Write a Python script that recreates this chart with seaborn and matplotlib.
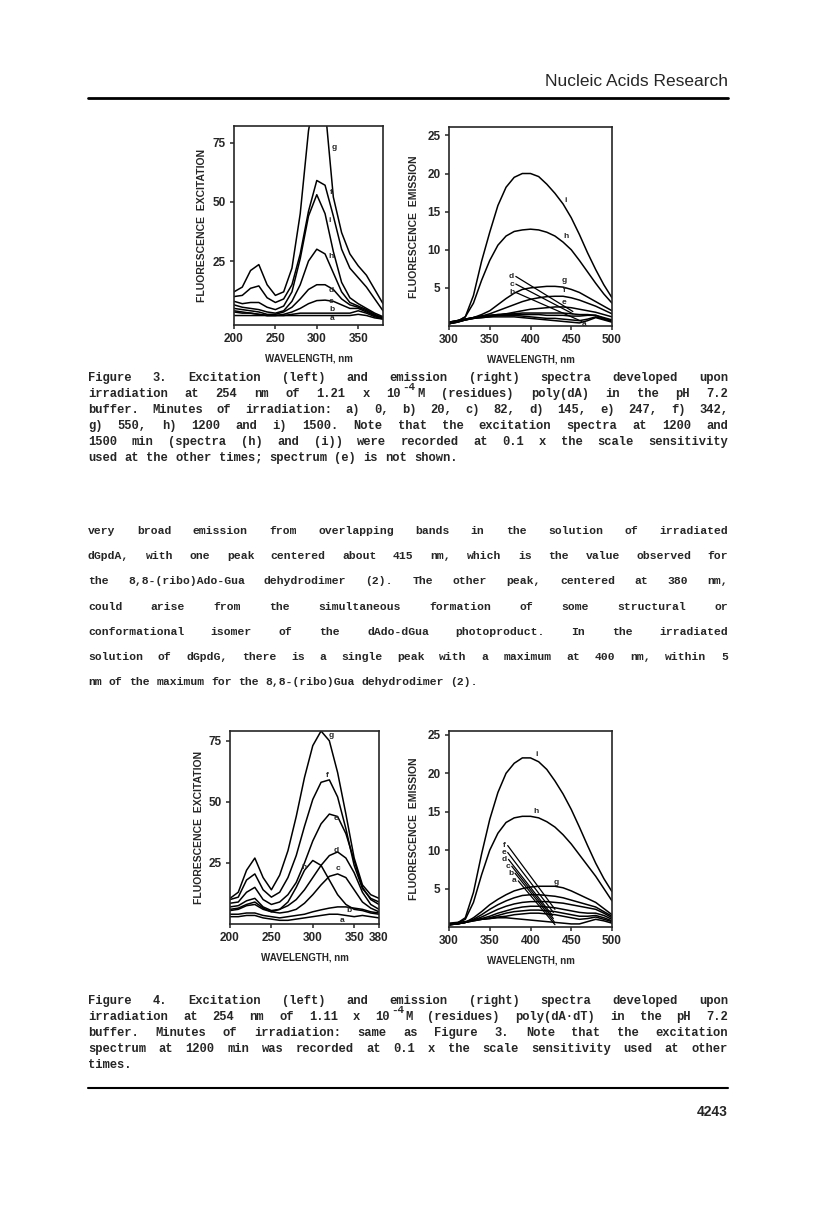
import numpy as np
import pandas as pd
import matplotlib
matplotlib.use("Agg")
import matplotlib.pyplot as plt
import seaborn as sns

W, H = 816, 1221

# longueurs d'onde (nm)
EXC_WL = [200, 210, 220, 230, 240, 250, 260, 270, 280, 290, 300, 310, 320, 330, 340, 350, 360, 370, 380]
EMI_WL = [300, 310, 320, 330, 340, 350, 360, 370, 380, 390, 400, 410, 420, 430, 440, 450, 460, 470, 480, 490, 500]

# Figure 3, excitation (e non montre)
F3X_A = [2, 2, 2, 2, 2, 2, 2, 2, 2, 2, 2, 2, 2, 2, 2, 2.5, 2, 1, 0.5]
F3X_B = [3.5, 3, 3, 2.5, 2, 2, 2, 2.5, 3, 3, 3, 3, 3, 3, 3, 4, 3, 1.5, 0.5]
F3X_C = [4, 3.5, 3, 2.5, 2, 2, 2.5, 3.5, 5, 7, 8.3, 8.5, 8, 6.5, 5, 5, 3.5, 2, 1]
F3X_D = [5, 4.5, 4, 3.5, 2.5, 2.5, 3.5, 5.5, 9, 13, 15, 15, 13, 9, 6.5, 5.5, 4, 2, 1]
F3X_F = [10, 10.5, 13.5, 14.5, 9.5, 7.5, 9, 15, 28, 46, 59, 57, 44, 30, 22, 18, 14, 9, 4]
F3X_G = [12, 14, 21, 23.5, 15, 10.5, 12, 22, 45, 80, 100, 90, 52, 37, 28, 23, 19, 13, 7]
F3X_H = [6.5, 5.5, 5, 4.5, 3.5, 3, 4, 8, 15, 25, 30, 28, 20, 12, 7.5, 6, 4.5, 2.5, 1]
F3X_I = [8, 7, 7.5, 7.5, 5.5, 4.5, 6, 12, 26, 44, 53, 45, 29, 16, 9.5, 7, 5, 3, 1.5]

# Figure 3, emission
F3M_A = [0.4, 0.6, 0.8, 1.0, 1.1, 1.2, 1.2, 1.2, 1.2, 1.1, 1.0, 0.9, 0.8, 0.7, 0.6, 0.5, 0.4, 0.7, 1.1, 0.8, 0.5]
F3M_B = [0.5, 0.7, 0.9, 1.1, 1.2, 1.3, 1.4, 1.4, 1.4, 1.3, 1.2, 1.1, 1.0, 1.0, 0.9, 0.8, 0.7, 0.9, 1.2, 0.9, 0.6]
F3M_C = [0.5, 0.7, 0.9, 1.1, 1.3, 1.4, 1.5, 1.5, 1.5, 1.5, 1.5, 1.5, 1.4, 1.4, 1.4, 1.3, 1.3, 1.4, 1.4, 1.0, 0.7]
F3M_D = [0.5, 0.7, 0.9, 1.1, 1.3, 1.4, 1.5, 1.6, 1.6, 1.7, 1.7, 1.7, 1.7, 1.7, 1.7, 1.6, 1.5, 1.5, 1.4, 1.1, 0.8]
F3M_E = [0.3, 0.5, 0.8, 1.0, 1.1, 1.2, 1.4, 1.6, 1.8, 2.0, 2.2, 2.3, 2.4, 2.5, 2.5, 2.4, 2.2, 2.0, 1.8, 1.5, 1.2]
F3M_F = [0.3, 0.5, 0.8, 1.0, 1.3, 1.6, 2.0, 2.4, 2.8, 3.2, 3.5, 3.7, 3.85, 3.9, 3.9, 3.7, 3.4, 3.0, 2.6, 2.1, 1.6]
F3M_G = [0.3, 0.5, 0.8, 1.1, 1.5, 2.0, 2.8, 3.6, 4.3, 4.8, 5.0, 5.1, 5.2, 5.2, 5.1, 4.8, 4.4, 3.8, 3.2, 2.6, 2.0]
F3M_H = [0.3, 0.6, 1.2, 3, 6, 8.6, 10.6, 11.8, 12.4, 12.6, 12.7, 12.6, 12.3, 11.8, 11, 10, 8.6, 7.1, 5.6, 4.2, 3.0]
F3M_I = [0.3, 0.6, 1.2, 4, 8.5, 12.3, 15.8, 18.2, 19.5, 20, 20, 19.6, 18.6, 17.4, 16, 14.2, 12, 9.6, 7.4, 5.4, 3.7]

# Figure 4, excitation (i non montre)
F4X_A = [3, 3, 3.5, 3.5, 2.5, 2, 1.5, 1.5, 2, 2.5, 3, 3.5, 4, 4, 3.5, 3, 3.5, 3, 2.5]
F4X_B = [4, 4, 4.5, 4.5, 3.5, 3, 2.5, 3, 3.5, 4, 5, 5.8, 6.5, 7, 7, 6.5, 6, 5, 4.5]
F4X_C = [5.5, 6, 7.5, 8, 6, 5, 4.5, 5, 6, 8.5, 12, 16, 19.5, 20.5, 19, 14, 9, 6.5, 5]
F4X_D = [7, 7.5, 9.5, 10.5, 7, 5.5, 6, 7.5, 10, 14, 19, 24, 28, 29.5, 27, 21, 13, 8, 6]
F4X_E = [8.5, 9, 13, 15, 10, 8, 9, 12, 17, 25, 34, 41, 45, 44, 37, 26, 15, 10, 8]
F4X_F = [10, 11, 18, 20.5, 14, 11, 13, 19, 28, 40, 51, 58, 59, 52, 39, 24, 14.5, 10.5, 9]
F4X_G = [10.5, 13, 22, 27, 19, 14, 20, 30, 44, 60, 73, 79, 75, 62, 45, 27, 16, 12, 10.5]
F4X_H = [6, 6.5, 8, 9, 6.5, 5, 6, 9, 15, 22, 26, 24, 18, 12, 8, 6, 5.5, 4.5, 4]

# Figure 4, emission
F4M_A = [0.5, 0.6, 0.7, 0.9, 1.0, 1.1, 1.2, 1.2, 1.1, 1.0, 0.9, 0.8, 0.7, 0.6, 0.5, 0.4, 0.4, 0.7, 1.0, 0.8, 0.5]
F4M_B = [0.4, 0.5, 0.6, 0.8, 1.0, 1.1, 1.3, 1.4, 1.6, 1.7, 1.8, 1.8, 1.7, 1.6, 1.4, 1.2, 1.0, 1.1, 1.3, 1.0, 0.7]
F4M_C = [0.3, 0.4, 0.6, 0.8, 1.0, 1.2, 1.5, 1.8, 2.0, 2.1, 2.2, 2.2, 2.1, 2.0, 1.8, 1.6, 1.4, 1.4, 1.5, 1.2, 0.8]
F4M_D = [0.3, 0.4, 0.6, 0.9, 1.1, 1.4, 1.8, 2.1, 2.4, 2.6, 2.7, 2.7, 2.6, 2.5, 2.3, 2.1, 1.9, 1.8, 1.8, 1.5, 1.0]
F4M_E = [0.3, 0.4, 0.6, 0.9, 1.3, 1.8, 2.3, 2.7, 3.0, 3.2, 3.3, 3.3, 3.3, 3.2, 3.1, 2.9, 2.7, 2.5, 2.3, 1.8, 1.2]
F4M_F = [0.3, 0.4, 0.6, 1.0, 1.6, 2.3, 2.9, 3.4, 3.8, 4.1, 4.2, 4.2, 4.1, 4.0, 3.8, 3.5, 3.2, 2.9, 2.6, 2.0, 1.4]
F4M_G = [0.3, 0.4, 0.6, 1.2, 2, 2.9, 3.6, 4.2, 4.7, 5, 5.2, 5.3, 5.3, 5.3, 5.1, 4.7, 4.2, 3.7, 3.2, 2.4, 1.6]
F4M_H = [0.3, 0.5, 1.0, 3.2, 6.8, 10, 12.2, 13.6, 14.2, 14.4, 14.4, 14.2, 13.7, 13, 12, 10.8, 9.4, 8, 6.6, 5, 3.4]
F4M_I = [0.3, 0.5, 1.2, 4.5, 9.5, 14, 17.5, 20, 21.3, 22, 22, 21.5, 20.5, 19, 17.3, 15.3, 13, 10.6, 8.3, 6.3, 4.6]

CAPTION3 = [
    "Figure 3.  Excitation (left) and emission (right) spectra developed upon",
    "irradiation at 254 nm of 1.21 x 10^-4 M (residues) poly(dA) in the pH 7.2",
    "buffer.  Minutes of irradiation: a) 0, b) 20, c) 82, d) 145, e) 247, f) 342,",
    "g) 550, h) 1200 and i) 1500.  Note that the excitation spectra at 1200 and",
    "1500 min (spectra (h) and (i)) were recorded at 0.1 x the scale sensitivity",
    "used at the other times; spectrum (e) is not shown.",
]
BODY = [
    "very broad emission from overlapping bands in the solution of irradiated",
    "dGpdA, with one peak centered about 415 nm, which is the value observed for",
    "the 8,8-(ribo)Ado-Gua dehydrodimer (2).  The other peak, centered at 380 nm,",
    "could arise from the simultaneous formation of some structural or",
    "conformational isomer of the dAdo-dGua photoproduct.  In the irradiated",
    "solution of dGpdG, there is a single peak with a maximum at 400 nm, within 5",
    "nm of the maximum for the 8,8-(ribo)Gua dehydrodimer (2).",
]
CAPTION4 = [
    "Figure 4.  Excitation (left) and emission (right) spectra developed upon",
    "irradiation at 254 nm of 1.11 x 10^-4 M (residues) poly(dA\u00b7dT) in the pH 7.2",
    "buffer.  Minutes of irradiation: same as Figure 3.  Note that the excitation",
    "spectrum at 1200 min was recorded at 0.1 x the scale sensitivity used at other",
    "times.",
]

sns.set_style("ticks")
plt.rcParams["font.family"] = ["Liberation Sans", "DejaVu Sans"]
plt.rcParams["axes.linewidth"] = 1.2

fig = plt.figure(figsize=(W / 100, H / 100), dpi=100)
fig.patch.set_facecolor("white")

SANS = dict(family=["Liberation Sans", "DejaVu Sans"], fontweight="bold")
MONO_FAM = ["Liberation Mono", "DejaVu Sans Mono"]


def px(x, y):
    return x / W, 1 - y / H


def panel(box, wl, curves, xlim, ylim, xticks, yticks, ylabel, ypad):
    x0, y0, x1, y1 = box
    ax = fig.add_axes([x0 / W, 1 - y1 / H, (x1 - x0) / W, (y1 - y0) / H])
    df = pd.concat(
        [pd.DataFrame({"wl": wl, "val": v, "curve": k}) for k, v in curves.items()],
        ignore_index=True,
    )
    sns.lineplot(data=df, x="wl", y="val", units="curve", estimator=None,
                 color="black", lw=1.1, ax=ax, legend=False)
    ax.set_xlim(*xlim)
    ax.set_ylim(*ylim)
    ax.set_xticks(xticks)
    ax.set_yticks(yticks)
    ax.tick_params(direction="out", length=3, width=1.1, pad=3, labelsize=8.5)
    for t in ax.get_xticklabels() + ax.get_yticklabels():
        t.set_fontweight("bold")
    ax.set_xlabel("WAVELENGTH, nm", fontsize=7, labelpad=6, **SANS)
    ax.set_ylabel(ylabel, fontsize=7.5, labelpad=ypad, **SANS)
    return ax


def tags(ax, items):
    for s, x, y in items:
        ax.text(x, y, s, fontsize=6, ha="center", va="center", **SANS)


def leaders(ax, items):
    for s, (xa, ya), (xb, yb) in items:
        ax.annotate("", xy=(xb, yb), xytext=(xa, ya),
                    arrowprops=dict(arrowstyle="-", lw=0.9, color="black", shrinkA=0, shrinkB=0))
        ax.text(xa - 2, ya, s, fontsize=6, ha="right", va="center", **SANS)


def justified(lines, y0, step, fs):
    pitch = 0.6 * fs * 100 / 72
    for n, line in enumerate(lines):
        y = y0 + n * step
        words = line.split()
        base = [w.split("^")[0] for w in words]
        if n == len(lines) - 1:
            gap = pitch
        else:
            gap = (728 - 88 - sum(len(b) for b in base) * pitch) / (len(words) - 1)
        x = 88
        for w, b in zip(words, base):
            fig.text(*px(x, y), b, va="baseline", ha="left",
                     family=MONO_FAM, fontweight="bold", fontsize=fs)
            if "^" in w:
                sup = w.split("^")[1]
                fig.text(*px(x + len(b) * pitch + 1, y - 7), sup, va="baseline", ha="left",
                         family=MONO_FAM, fontweight="bold", fontsize=fs * 0.9)
            x += len(b) * pitch + gap


# figure 3
ax = panel((234, 126, 383, 325), EXC_WL,
           {"a": F3X_A, "b": F3X_B, "c": F3X_C, "d": F3X_D, "f": F3X_F, "g": F3X_G, "h": F3X_H, "i": F3X_I},
           (200, 380), (-2, 82), [200, 250, 300, 350], [25, 50, 75], "FLUORESCENCE  EXCITATION", 4)
tags(ax, [("g", 321, 73), ("f", 317, 54), ("i", 315, 42), ("h", 317, 27),
          ("d", 318, 12.6), ("c", 317, 8.1), ("b", 318, 4.7), ("a", 318, 0.8)])

ax = panel((449, 127, 612, 326), EMI_WL,
           {"a": F3M_A, "b": F3M_B, "c": F3M_C, "d": F3M_D, "e": F3M_E, "f": F3M_F, "g": F3M_G, "h": F3M_H, "i": F3M_I},
           (300, 500), (0, 26.1), [300, 350, 400, 450, 500], [5, 10, 15, 20, 25], "FLUORESCENCE  EMISSION", 6)
tags(ax, [("i", 443, 16.4), ("h", 443, 11.8), ("g", 441, 6.0), ("f", 441, 4.6), ("e", 441, 3.1), ("a", 466, 0.25)])
leaders(ax, [("d", (382, 6.5), (452, 1.9)), ("c", (382, 5.5), (452, 1.6)), ("b", (382, 4.4), (463, 0.6))])

# figure 4
ax = panel((230, 731, 379, 924), EXC_WL,
           {"a": F4X_A, "b": F4X_B, "c": F4X_C, "d": F4X_D, "e": F4X_E, "f": F4X_F, "g": F4X_G, "h": F4X_H},
           (200, 380), (0, 79), [200, 250, 300, 350, 380], [25, 50, 75], "FLUORESCENCE  EXCITATION", 3.5)
tags(ax, [("g", 322, 77), ("f", 317, 60.8), ("e", 328, 43), ("d", 328, 30), ("c", 330, 22.6),
          ("h", 290, 23), ("b", 344, 5.4), ("a", 335, 1.4)])

ax = panel((449, 731, 612, 927), EMI_WL,
           {"a": F4M_A, "b": F4M_B, "c": F4M_C, "d": F4M_D, "e": F4M_E, "f": F4M_F, "g": F4M_G, "h": F4M_H, "i": F4M_I},
           (300, 500), (0, 25.5), [300, 350, 400, 450, 500], [5, 10, 15, 20, 25], "FLUORESCENCE  EMISSION", 6)
tags(ax, [("i", 407, 22.4), ("h", 407, 15.0), ("g", 432, 5.8)])
leaders(ax, [("f", (372, 10.6), (430, 2.3)), ("e", (372, 9.7), (428, 1.9)), ("d", (373, 8.8), (427, 1.5)),
             ("c", (377, 7.9), (428, 1.1)), ("b", (381, 7.0), (429, 0.7)), ("a", (385, 6.0), (430, 0.3))])

# en-tete et pied de page
fig.text(*px(728, 86), "Nucleic Acids Research", ha="right", va="baseline",
         family=["Liberation Sans", "DejaVu Sans"], fontsize=12.5)
fig.add_artist(plt.Line2D([88 / W, 728 / W], [1 - 98 / H, 1 - 98 / H], color="black", lw=2))
fig.add_artist(plt.Line2D([88 / W, 728 / W], [1 - 1088 / H, 1 - 1088 / H], color="black", lw=1.5))
fig.text(*px(728, 1116), "4243", ha="right", va="baseline", fontsize=10, **SANS)

justified(CAPTION3, 381, 16, 8.7)
justified(BODY, 534, 25.2, 8.2)
justified(CAPTION4, 1004, 16, 8.7)

fig.savefig("out.png", dpi=100)
